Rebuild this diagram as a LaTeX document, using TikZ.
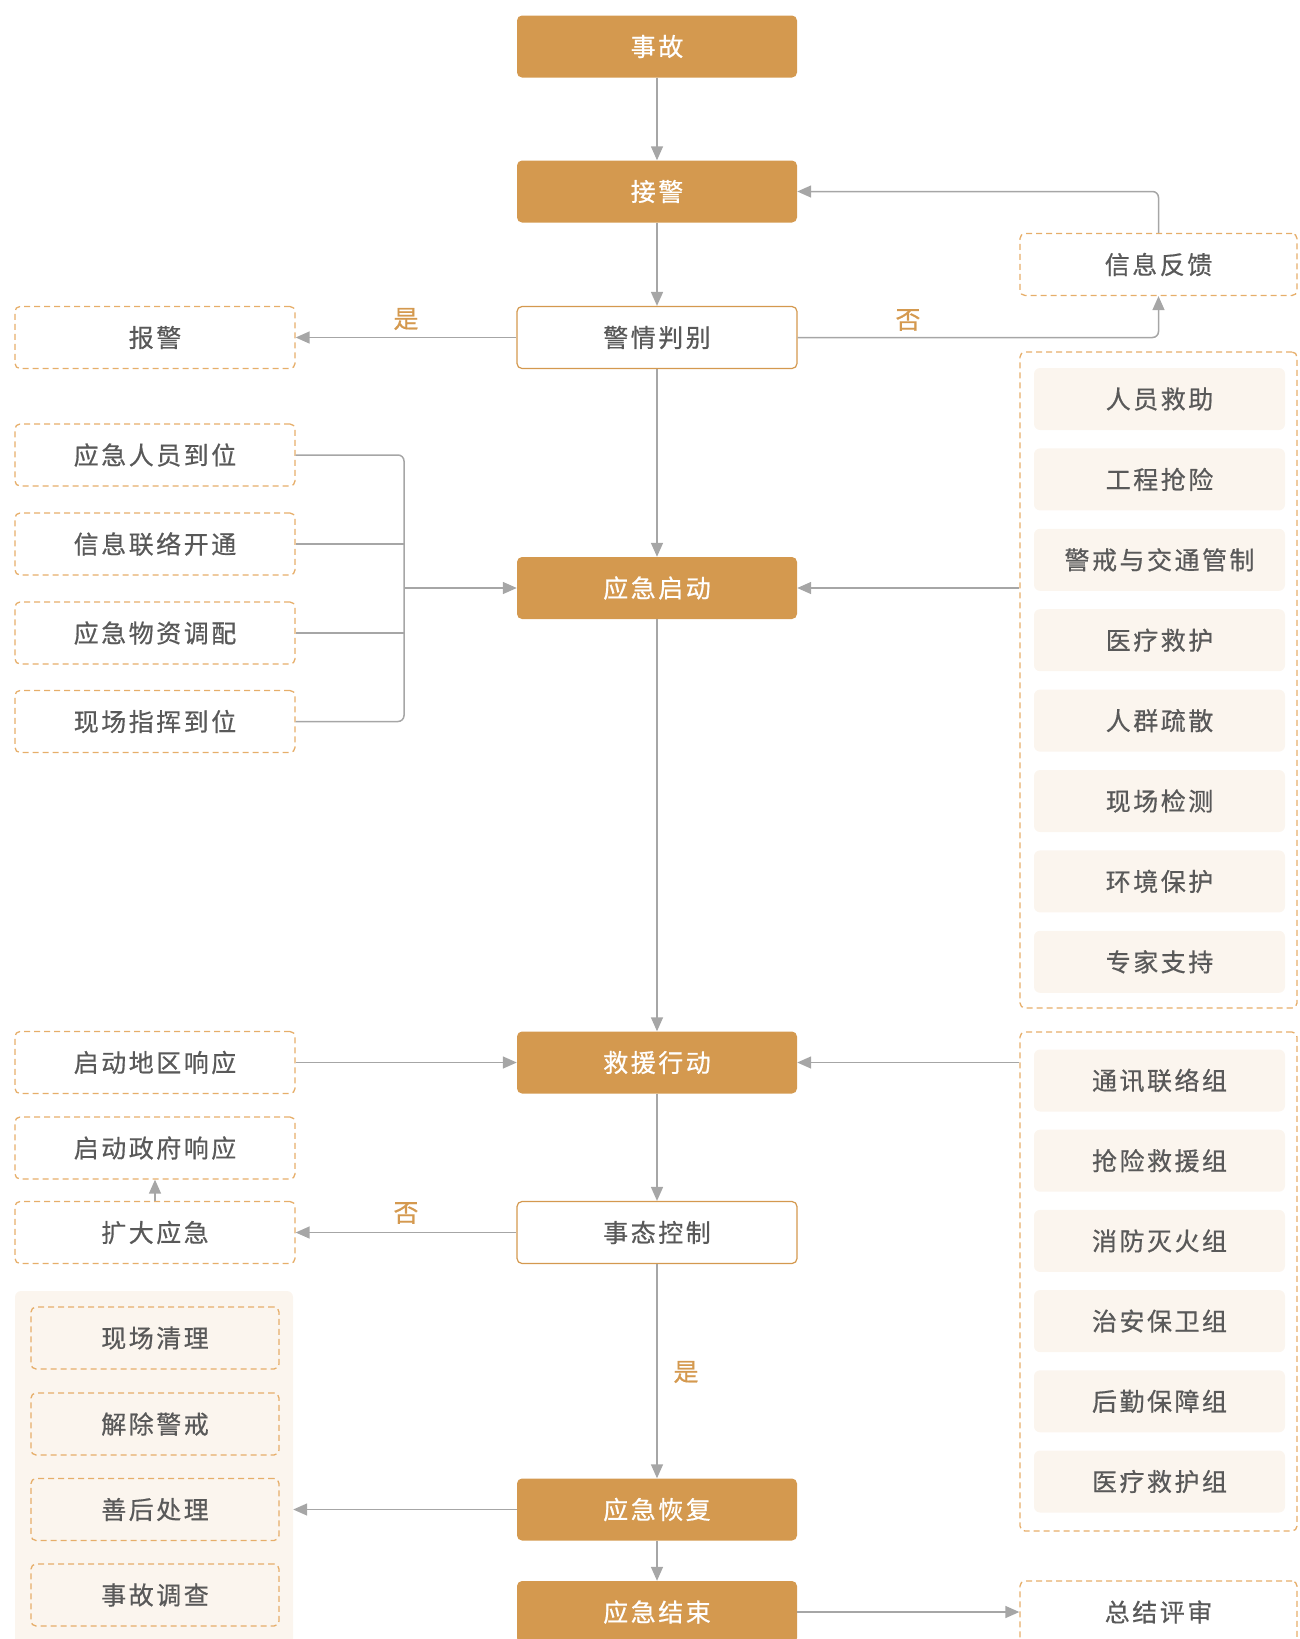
\documentclass[tikz,border=0pt]{standalone}
\usepackage{fontspec}
\setmainfont{Noto Sans CJK SC}[LetterSpace=10,FakeBold=0.6]
\usetikzlibrary{arrows.meta}
\definecolor{mainorange}{HTML}{D4994F}
\definecolor{dashorange}{HTML}{E6AE6A}
\definecolor{lightfill}{HTML}{FBF5EE}
\definecolor{textgray}{HTML}{595959}
\definecolor{linegray}{HTML}{A6A6A6}
\tikzstyle{every node}=[font=\fontsize{25pt}{29pt}\selectfont]
\tikzstyle{mainbox}=[rectangle,rounded corners=5pt,fill=mainorange,text=white,minimum width=280pt,minimum height=62pt,inner sep=0pt]
\tikzstyle{judgebox}=[rectangle,rounded corners=5pt,draw=mainorange,line width=1.2pt,fill=white,text=textgray,minimum width=280pt,minimum height=62pt,inner sep=0pt]
\tikzstyle{dashbox}=[rectangle,rounded corners=5pt,draw=dashorange,line width=1.3pt,dash pattern=on 6pt off 4pt,text=textgray,minimum width=280pt,minimum height=62pt,inner sep=0pt]
\tikzstyle{subbox}=[rectangle,rounded corners=6pt,fill=lightfill,text=textgray,minimum width=251pt,minimum height=62pt,inner sep=0pt]
\tikzstyle{groupbox}=[rectangle,rounded corners=5pt,draw=dashorange,line width=1.3pt,dash pattern=on 6pt off 4pt,inner sep=0pt]
\tikzstyle{link}=[draw=linegray,line width=1.5pt]
\tikzstyle{arr}=[link,-{Triangle[length=14pt,width=12pt]}]
\tikzstyle{answer}=[text=mainorange]

\begin{document}
\begin{tikzpicture}[x=1pt,y=-1pt]
\useasboundingbox (0,0) rectangle (1299,1639);

\node[mainbox]  (accident) at (657, 46.5)   {事故};
\node[mainbox]  (receive)  at (657, 191.5)  {接警};
\node[judgebox] (judge)    at (657, 337.5)  {警情判别};
\node[mainbox]  (launch)   at (657, 588)    {应急启动};
\node[mainbox]  (rescue)   at (657, 1062.5) {救援行动};
\node[judgebox] (control)  at (657, 1232.5) {事态控制};
\node[mainbox]  (recover)  at (657, 1509.5) {应急恢复};
\node[mainbox]  (finish)   at (657, 1612)   {应急结束};

\node[dashbox] (alarm)    at (155, 337.5)  {报警};
\node[dashbox] (staff)    at (155, 455)    {应急人员到位};
\node[dashbox] (liaison)  at (155, 544)    {信息联络开通};
\node[dashbox] (supply)   at (155, 633)    {应急物资调配};
\node[dashbox] (command)  at (155, 721.5)  {现场指挥到位};
\node[dashbox] (regional) at (155, 1062.5) {启动地区响应};
\node[dashbox] (govt)     at (155, 1148)   {启动政府响应};
\node[dashbox] (expand)   at (155, 1232.5) {扩大应急};

\node[rectangle,rounded corners=6pt,fill=lightfill,minimum width=278pt,minimum height=360pt,inner sep=0pt] (aftermath) at (154, 1471) {};
\node[dashbox,minimum width=248pt] (cleanup)  at (155, 1338)   {现场清理};
\node[dashbox,minimum width=248pt] (lift)     at (155, 1424)   {解除警戒};
\node[dashbox,minimum width=248pt] (settle)   at (155, 1509.5) {善后处理};
\node[dashbox,minimum width=248pt] (inquiry)  at (155, 1595)   {事故调查};

\node[dashbox,minimum width=277pt] (feedback) at (1158.5, 264.5) {信息反馈};
\node[groupbox,minimum width=277pt,minimum height=656pt] (tasks) at (1158.5, 680) {};
\node[subbox] (t1) at (1159.5, 399)   {人员救助};
\node[subbox] (t2) at (1159.5, 479.4) {工程抢险};
\node[subbox] (t3) at (1159.5, 559.8) {警戒与交通管制};
\node[subbox] (t4) at (1159.5, 640.2) {医疗救护};
\node[subbox] (t5) at (1159.5, 720.6) {人群疏散};
\node[subbox] (t6) at (1159.5, 801)   {现场检测};
\node[subbox] (t7) at (1159.5, 881.4) {环境保护};
\node[subbox] (t8) at (1159.5, 961.8) {专家支持};

\node[groupbox,minimum width=277pt,minimum height=499pt] (teams) at (1158.5, 1281.5) {};
\node[subbox] (g1) at (1159.5, 1080.5) {通讯联络组};
\node[subbox] (g2) at (1159.5, 1160.7) {抢险救援组};
\node[subbox] (g3) at (1159.5, 1240.9) {消防灭火组};
\node[subbox] (g4) at (1159.5, 1321.1) {治安保卫组};
\node[subbox] (g5) at (1159.5, 1401.3) {后勤保障组};
\node[subbox] (g6) at (1159.5, 1481.5) {医疗救护组};

\node[dashbox,minimum width=277pt] (summary) at (1158.5, 1612) {总结评审};

\coordinate (join) at (404, 588);

\draw[arr] (accident) -- (receive);
\draw[arr] (receive) -- (judge);
\draw[arr,rounded corners=6pt] (feedback.north) |- (receive.east);
\draw[arr,rounded corners=6pt] (judge.east) -| (feedback.south);
\draw[arr] (judge.west) -- (alarm.east);
\draw[arr] (judge) -- (launch);
\draw[link,rounded corners=6pt] (staff.east) -| (join) |- (command.east);
\draw[link] (liaison.east) -- (liaison.east -| join);
\draw[link] (supply.east) -- (supply.east -| join);
\draw[arr] (join) -- (launch.west);
\draw[arr] (launch.east -| tasks.west) -- (launch.east);
\draw[arr] (launch) -- (rescue);
\draw[arr] (regional.east) -- (rescue.west);
\draw[arr] (rescue.east -| teams.west) -- (rescue.east);
\draw[arr] (rescue) -- (control);
\draw[arr] (control.west) -- (expand.east);
\draw[arr] (expand.north) -- (govt.south);
\draw[arr] (control) -- (recover);
\draw[arr] (recover.west) -- (recover.west -| aftermath.east);
\draw[arr] (recover) -- (finish);
\draw[arr] (finish.east) -- (summary.west);

\node[answer] (yes1) at (406, 319)  {是};
\node[answer] (no1)  at (908, 320)  {否};
\node[answer] (no2)  at (406, 1213) {否};
\node[answer] (yes2) at (686, 1372) {是};

\end{tikzpicture}
\end{document}
